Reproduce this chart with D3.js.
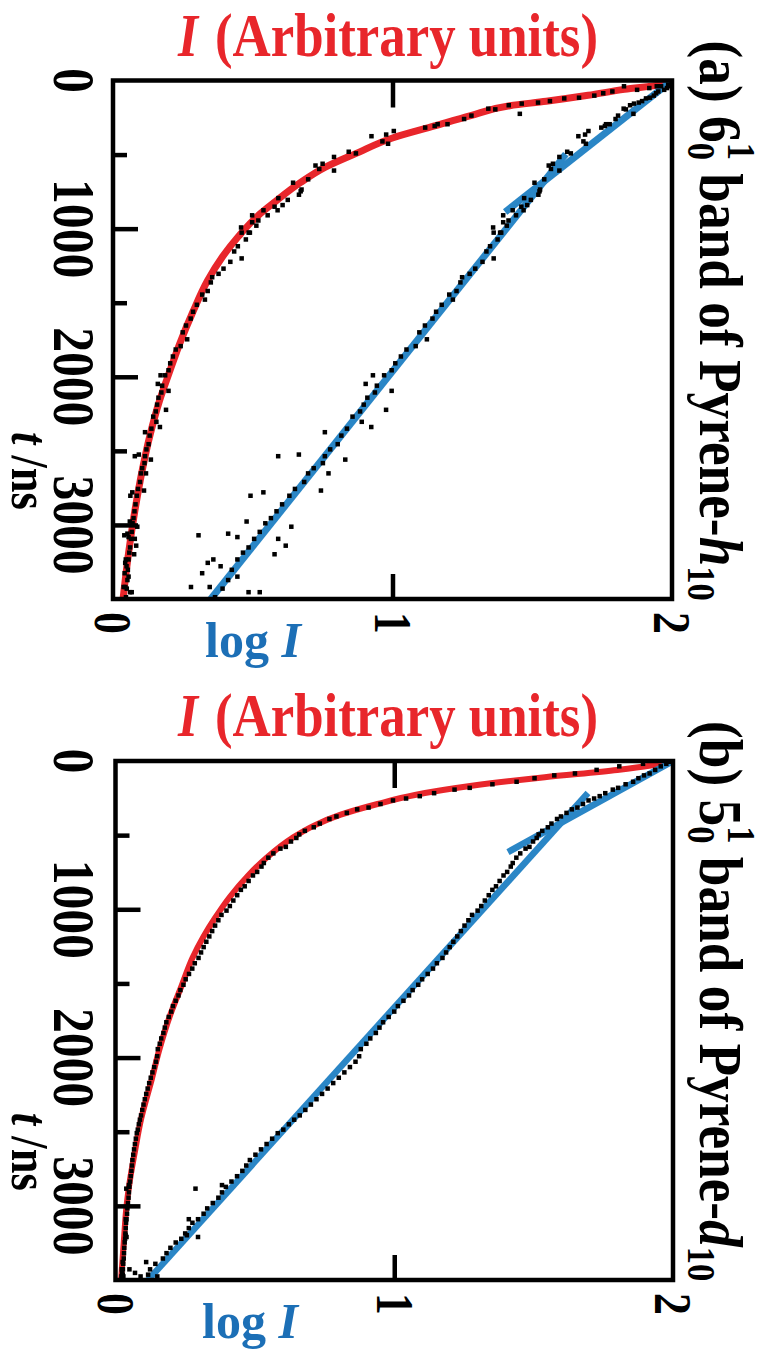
<!DOCTYPE html>
<html><head><meta charset="utf-8">
<script src="https://cdn.jsdelivr.net/npm/d3@7"></script>
<style>body{margin:0;background:#fff}svg{display:block}</style>
</head><body>
<svg id="c" width="782" height="1356"></svg>
<script>
// ---------------- data ----------------
const tMajorTicks = [0, 1000, 2000, 3000];
const tMinorTicks = [500, 1500, 2500];
const tTickLabels = ["0", "1000", "2000", "3000"];
const logTicks = [0, 1, 2];
const logTickLabels = ["0", "1", "2"];

// panel (a): measured points [t (ns), log I]
const aPoints = [[28,1.997],[39,1.988],[39,1.961],[51,1.982],[63,1.972],[74,1.951],[86,1.943],[102,1.935],[116,1.921],[121,1.907],[139,1.893],[149,1.881],[156,1.864],[167,1.850],[190,1.827],[195,1.835],[225,1.862],[237,1.807],[260,1.798],[295,1.777],[295,1.764],[307,1.760],[318,1.747],[341,1.701],[365,1.689],[376,1.665],[411,1.683],[427,1.692],[481,1.625],[492,1.638],[516,1.597],[562,1.574],[574,1.559],[597,1.567],[608,1.597],[667,1.543],[690,1.508],
[736,1.528],[748,1.526],[771,1.522],[794,1.471],[806,1.495],[841,1.482],[852,1.461],[876,1.469],[876,1.430],[910,1.442],[910,1.396],[945,1.415],[957,1.396],[980,1.409],[992,1.360],[1027,1.385],
[1027,1.389],[1027,1.362],[1073,1.376],[1119,1.349],[1154,1.336],[1201,1.362],[1224,1.322],[1270,1.296],[1305,1.276],[1328,1.249],[1363,1.243],[1421,1.229],[1445,1.203],[1479,1.216],[1514,1.176],[1561,1.156],[1607,1.143],[1654,1.116],[1700,1.096],[1747,1.123],[1793,1.083],[1816,1.050],[1863,1.030],[1909,1.010],[1956,0.997],[1990,0.970],[1990,0.930],[2060,0.944],[2106,0.937],[2141,0.910],[2188,0.897],[2234,0.884],[2269,0.857],[2304,0.890],[2350,0.837],[2397,0.817],[2455,0.804],[2490,0.777],[2536,0.758],[2583,0.751],[2617,0.718],[2652,0.698],[2710,0.684],[2757,0.651],[2803,0.631],[2861,0.605],[2908,0.585],[2954,0.565],[2989,0.545],[3047,0.525],[3094,0.505],[3152,0.485],[3187,0.465],[3233,0.445],[3349,0.445],[3303,0.425],[3372,0.412],[3430,0.392],[3488,0.365],
[2536,0.591],[2525,0.665],[2374,0.758],[2559,0.831],[2780,0.538],[2803,0.492],[3070,0.306],[3059,0.412],[3082,0.445],[3256,0.339],[3233,0.359],[3279,0.385],[3326,0.319],[3419,0.279],[3419,0.346],[3454,0.485],[3454,0.525],[3012,0.638],[3140,0.618],[3198,0.578],[3094,0.591],[2977,0.478],[2652,0.771],[2768,0.744],[2223,0.977],[2339,0.924],[2048,0.904],[2095,0.997]];
// panel (a): fitted curve I(t), I in arbitrary units (0-100)
const aFitT = [0,28,60,100,140,170,237,307,388,492,585,690,818,910,1050,1189,1352,1561,1770,1979,2164,2397,2675,2954,3186,3500];
const aFitI = [100,98,91.5,85,77.5,71,64,57.5,50,43.5,38,33.5,29,26,22.5,19.6,16.9,14.3,12,10,8.3,6.6,5,3.7,2.8,1.8];
// panel (a): straight-line fits of log I
const aFastT = [0, 888], aFastLog = [2.0, 1.403];
const aSlowT = [497, 3500], aSlowLog = [1.62, 0.35];

// panel (b)
const bPoints = [[5,1.996],[19,1.976],[36,1.956],[60,1.936],[84,1.916],[97,1.896],[116,1.876],[140,1.857],[157,1.830],[181,1.803],[193,1.784],[217,1.757],[237,1.737],[253,1.717],[266,1.697],[290,1.677],[314,1.657],[326,1.637],[350,1.618],[374,1.598],[391,1.584],[422,1.564],[447,1.551],[471,1.531],[495,1.518],[519,1.511],[543,1.498],[579,1.485],[591,1.471],[623,1.452],[652,1.438],[688,1.425],[712,1.418],[748,1.405],[772,1.392],[809,1.378],[845,1.365],[869,1.352],[905,1.339],[941,1.325],[978,1.312],[1009,1.299],[1038,1.279],[1074,1.266],[1110,1.252],[1147,1.239],[1183,1.226],[1219,1.212],[1255,1.199],[1291,1.186],[1328,1.173],[1364,1.153],[1400,1.139],[1436,1.120],[1472,1.100],[1509,1.086],[1545,1.066],[1581,1.053],[1617,1.033],[1653,1.013],[1690,1.000],[1726,0.980],[1762,0.960],[1798,0.947],[1834,0.934],[1871,0.914],[1907,0.900],[1943,0.880],[1991,0.874],[2028,0.861],[2064,0.841],[2100,0.821],[2136,0.801],[2172,0.781],[2209,0.761],[2245,0.741],[2281,0.721],[2317,0.701],[2353,0.681],[2390,0.661],[2419,0.641],[2450,0.622],[2486,0.602],[2510,0.582],[2547,0.562],[2583,0.542],[2619,0.522],[2655,0.502],[2691,0.482],[2728,0.469],[2764,0.455],[2800,0.436],[2836,0.416],[2872,0.396],[2909,0.382],[2945,0.369],[2981,0.349],[3017,0.329],[3053,0.316],[3090,0.296],[3114,0.276],[3150,0.263],[3186,0.250],[3222,0.236],[3247,0.216],[3283,0.197],[3319,0.183],[3355,0.170],[3391,0.143],[3428,0.124],[3464,0.117],
[2884,0.287],[2860,0.382],[3090,0.263],[3198,0.256],[3210,0.296],[3379,0.110],[3452,0.070],[3476,0.090],[3476,0.150],[3428,0.050],[3476,0.024]];
const bFitT = [0,30,60,109,169,229,290,362,434,519,652,772,917,1062,1183,1328,1521,1714,1955,2148,2414,2631,2824,2993,3234,3500];
const bFitI = [100,96,90,77,63.6,53.7,47,40.4,35.7,31.7,27.1,23.8,20.5,17.8,15.8,13.8,11.8,9.8,7.8,6.5,4.6,3.5,2.6,2.0,1.5,1.0];
const bFastT = [0, 614], bFastLog = [2.0, 1.408];
const bSlowT = [216, 3500], bSlowLog = [1.695, 0.117];

// ---------------- drawing ----------------
const FONT = '"Liberation Serif","Times New Roman",serif';
const RED = '#e8262b', BLUE = '#2a86c6', LBLUE = '#1c6fb6';
const svg = d3.select('#c');

function panel(o) {
  const {x0, x1, y0, y1} = o;
  const yT = d3.scaleLinear().domain([0, 3500]).range([y0, y1]);
  const xL = d3.scaleLinear().domain([0, 2]).range([x0, x1]);
  const xI = d3.scaleLinear().domain([0, 100]).range([x0, x1]);
  const g = svg.append('g');
  const cid = 'clip' + o.id;
  g.append('clipPath').attr('id', cid).append('rect')
    .attr('x', x0).attr('y', y0).attr('width', x1 - x0).attr('height', y1 - y0);
  const pg = g.append('g').attr('clip-path', `url(#${cid})`);

  const fit = o.fitT.map((t, i) => ({t, I: o.fitI[i]}));
  pg.append('path').datum(fit)
    .attr('d', d3.line().x(d => xI(d.I)).y(d => yT(d.t)).curve(d3.curveMonotoneY))
    .attr('fill', 'none').attr('stroke', RED).attr('stroke-width', o.redW);

  [[o.fastT, o.fastLog], [o.slowT, o.slowLog]].forEach(([T, Lg]) => {
    const seg = T.map((t, i) => ({t, L: Lg[i]}));
    pg.append('path').datum(seg)
      .attr('d', d3.line().x(d => xL(d.L)).y(d => yT(d.t)))
      .attr('fill', 'none').attr('stroke', BLUE).attr('stroke-width', o.blueW);
  });

  const s = o.ms;
  pg.selectAll(null).data(o.points).join('rect')
    .attr('x', d => xL(d[1]) - s / 2).attr('y', d => yT(d[0]) - s / 2)
    .attr('width', s).attr('height', s).attr('fill', '#000');
  pg.selectAll(null).data(o.points).join('rect')
    .attr('x', d => xI(Math.pow(10, d[1])) - s / 2).attr('y', d => yT(d[0]) - s / 2)
    .attr('width', s).attr('height', s).attr('fill', '#000');

  // ticks (inward)
  const axMaj = g.append('g').attr('transform', `translate(${x0},0)`)
    .call(d3.axisLeft(yT).tickValues(tMajorTicks.slice(1)).tickSize(-25).tickFormat(''));
  const axMin = g.append('g').attr('transform', `translate(${x0},0)`)
    .call(d3.axisLeft(yT).tickValues(tMinorTicks).tickSize(-14).tickFormat(''));
  const axB = g.append('g').attr('transform', `translate(0,${y1})`)
    .call(d3.axisBottom(xL).tickValues([1]).tickSize(-25).tickFormat(''));
  const axT = g.append('g').attr('transform', `translate(0,${y0})`)
    .call(d3.axisTop(xL).tickValues([1]).tickSize(-27).tickFormat(''));
  [axMaj, axMin, axB, axT].forEach(a => {
    a.select('.domain').remove();
    a.selectAll('line').attr('stroke', '#000').attr('stroke-width', 4.5);
  });

  g.append('rect').attr('x', x0).attr('y', y0).attr('width', x1 - x0).attr('height', y1 - y0)
    .attr('fill', 'none').attr('stroke', '#000').attr('stroke-width', 4.5);

  // t tick labels (rotated)
  tMajorTicks.forEach((v, i) => {
    g.append('text').attr('transform', `translate(${o.tLabX},${yT(v)}) rotate(90) scale(0.84,1)`)
      .attr('text-anchor', 'middle').attr('font-family', FONT).attr('font-weight', 'bold')
      .attr('font-size', 59).attr('fill', '#000').text(tTickLabels[i]);
  });
  // log tick labels (rotated)
  logTicks.forEach((v, i) => {
    g.append('text').attr('transform', `translate(${xL(v)},${y1 + 13}) rotate(90) scale(0.84,1)`)
      .attr('text-anchor', 'start').attr('dy', '0.34em').attr('font-family', FONT).attr('font-weight', 'bold')
      .attr('font-size', 52).attr('fill', '#000').text(logTickLabels[i]);
  });
  // t / ns
  const tl = g.append('text').attr('transform', `translate(12,${yT(o.tnsAt)}) rotate(90) scale(0.84,1)`)
    .attr('text-anchor', 'middle').attr('font-family', FONT).attr('font-weight', 'bold')
    .attr('font-size', 53).attr('fill', '#000');
  tl.append('tspan').attr('font-style', 'italic').text('t');
  tl.append('tspan').text(' /ns');
  // log I
  const li = g.append('text').attr('x', o.logX).attr('y', y1 + 58)
    .attr('font-family', FONT).attr('font-weight', 'bold').attr('font-size', 50).attr('fill', LBLUE);
  li.append('tspan').text('log ');
  li.append('tspan').attr('font-style', 'italic').text('I');
  // title: italic I + (Arbitrary units)
  g.append('text').attr('x', 178).attr('y', y0 - 25)
    .attr('font-family', FONT).attr('font-weight', 'bold').attr('font-style', 'italic')
    .attr('font-size', 62).attr('fill', RED)
    .attr('textLength', 20).attr('lengthAdjust', 'spacingAndGlyphs').text('I');
  g.append('text').attr('x', 215).attr('y', y0 - 25)
    .attr('font-family', FONT).attr('font-weight', 'bold')
    .attr('font-size', 62).attr('fill', RED)
    .attr('textLength', 383).attr('lengthAdjust', 'spacingAndGlyphs').text('(Arbitrary units)');
  // side label
  const F = 62;
  const sl = g.append('text').attr('transform', `translate(700,${y0 - 40}) rotate(90) scale(0.86,1)`)
    .attr('font-family', FONT).attr('font-weight', 'bold').attr('font-size', F).attr('fill', '#000');
  sl.append('tspan').text(o.sideA);
  sl.append('tspan').attr('font-size', F * 0.65).attr('dy', -F * 0.45).text('1');
  sl.append('tspan').attr('font-size', F * 0.65).attr('dx', -F * 0.65 * 0.5).attr('dy', F * 0.65).text('0');
  sl.append('tspan').attr('dy', -F * 0.2).text(' band of Pyrene-');
  sl.append('tspan').attr('font-style', 'italic').text(o.iso);
  sl.append('tspan').attr('font-size', F * 0.65).attr('dy', F * 0.2).text('10');
}

panel({id: 'a', x0: 113, x1: 672, y0: 80.5, y1: 599, points: aPoints, fitT: aFitT, fitI: aFitI,
  fastT: aFastT, fastLog: aFastLog, slowT: aSlowT, slowLog: aSlowLog,
  redW: 7, blueW: 7, ms: 4.5, tLabX: 54, tnsAt: 2635, logX: 205, sideA: '(a) 6', iso: 'h'});
panel({id: 'b', x0: 115.5, x1: 673, y0: 761, y1: 1280, points: bPoints, fitT: bFitT, fitI: bFitI,
  fastT: bFastT, fastLog: bFastLog, slowT: bSlowT, slowLog: bSlowLog,
  redW: 6, blueW: 6.5, ms: 4.5, tLabX: 54, tnsAt: 2635, logX: 202, sideA: '(b) 5', iso: 'd'});
</script>
</body></html>
